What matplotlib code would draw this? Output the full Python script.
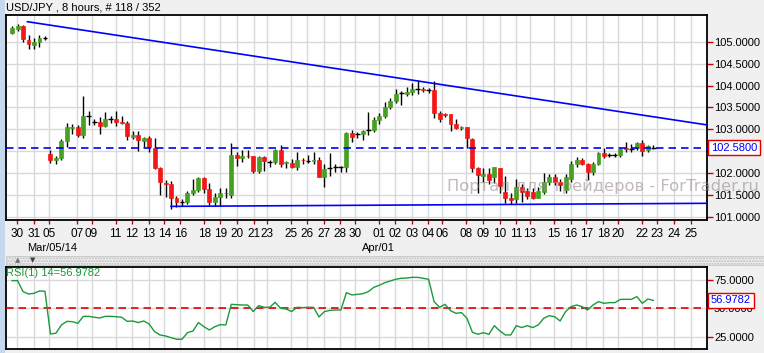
import matplotlib
matplotlib.use('Agg')
import matplotlib.pyplot as plt
import matplotlib.transforms as mtransforms
from matplotlib.patches import Rectangle
import numpy as np

plt.rcParams['font.family'] = ['Liberation Sans', 'DejaVu Sans']

# 8-hour USD/JPY candles
opens = [105.205, 105.289, 105.358, 105.038, 104.924, 105.000, 105.076, 102.435, 102.306, 102.352,
         102.732, 103.040, 103.052, 102.877, 103.311, 103.158, 103.166, 103.075, 103.227, 103.234,
         103.166, 103.143, 102.831, 102.869, 102.740, 102.801, 102.580, 102.108, 101.770, 101.750,
         101.431, 101.332, 101.347, 101.537, 101.613, 101.880, 101.636, 101.347, 101.454, 101.550,
         101.499, 102.412, 102.336, 102.390, 102.382, 102.055, 102.367, 102.260, 102.260, 102.527,
         102.237, 102.237, 102.146, 102.300, 102.283, 102.276, 102.291, 101.918, 102.123, 102.130,
         102.131, 102.131, 102.922, 102.890, 102.900, 102.983, 102.983, 103.212, 103.311, 103.501,
         103.645, 103.820, 103.813, 103.858, 103.919, 103.919, 103.900, 103.896, 103.379, 103.345,
         103.341, 103.120, 103.021, 103.044, 102.778, 102.123, 101.941, 101.971, 101.903, 102.108,
         101.560, 101.423, 101.400, 101.689, 101.591, 101.560, 101.438, 101.575, 101.804, 101.903,
         101.800, 101.620, 101.857, 102.207, 102.298, 102.199, 102.032, 102.207, 102.466, 102.410,
         102.410, 102.412, 102.580, 102.542, 102.565, 102.694, 102.527, 102.580]
highs = [105.358, 105.403, 105.381, 105.152, 105.076, 105.152, 105.129, 102.527, 102.397, 102.778,
         103.151, 103.128, 103.105, 103.767, 103.417, 103.234, 103.280, 103.394, 103.303, 103.409,
         103.311, 103.189, 102.968, 102.960, 102.831, 102.854, 102.808, 102.131, 101.842, 101.826,
         101.476, 101.408, 101.591, 101.857, 101.910, 101.918, 101.766, 101.537, 101.651, 101.667,
         102.679, 102.473, 102.527, 102.527, 102.397, 102.382, 102.390, 102.291, 102.549, 102.641,
         102.276, 102.314, 102.489, 102.352, 102.412, 102.489, 102.375, 102.199, 102.451, 102.199,
         102.169, 102.945, 102.983, 102.930, 102.983, 103.402, 103.288, 103.379, 103.615, 103.706,
         103.919, 103.874, 103.973, 104.049, 104.125, 103.973, 103.950, 104.110, 103.417, 103.379,
         103.356, 103.234, 103.075, 103.060, 102.793, 102.139, 102.123, 102.123, 102.139, 102.123,
         101.941, 101.537, 101.857, 101.743, 101.667, 101.651, 101.689, 102.002, 101.971, 101.986,
         101.870, 101.980, 102.283, 102.375, 102.336, 102.222, 102.260, 102.489, 102.565, 102.466,
         102.450, 102.580, 102.717, 102.656, 102.702, 102.755, 102.641, 102.641]
lows = [105.167, 105.251, 105.000, 104.833, 104.840, 104.886, 105.038, 102.237, 102.199, 102.291,
        102.603, 102.892, 102.823, 102.808, 103.097, 103.097, 102.892, 103.052, 103.135, 103.075,
        103.120, 102.755, 102.785, 102.511, 102.603, 102.473, 102.093, 101.499, 101.461, 101.180,
        101.233, 101.248, 101.301, 101.499, 101.575, 101.537, 101.271, 101.256, 101.256, 101.438,
        101.438, 102.169, 102.260, 102.336, 102.009, 101.994, 102.055, 102.131, 102.215, 102.131,
        102.108, 102.108, 102.070, 102.207, 102.222, 102.207, 101.903, 101.689, 101.941, 102.032,
        102.032, 102.032, 102.717, 102.808, 102.755, 102.869, 102.945, 103.113, 103.265, 103.455,
        103.592, 103.554, 103.767, 103.782, 103.798, 103.843, 103.820, 103.265, 103.174, 103.288,
        102.960, 102.998, 102.983, 102.580, 102.032, 101.537, 101.804, 101.750, 101.781, 101.537,
        101.309, 101.286, 101.309, 101.347, 101.400, 101.400, 101.423, 101.515, 101.727, 101.727,
        101.580, 101.550, 101.804, 102.146, 102.184, 101.842, 101.956, 102.184, 102.336, 102.375,
        102.375, 102.375, 102.489, 102.489, 102.527, 102.397, 102.489, 102.550]
closes = [105.304, 105.358, 105.053, 104.939, 105.000, 105.084, 105.076, 102.298, 102.352, 102.732,
          103.052, 103.048, 102.877, 103.311, 103.311, 103.158, 103.082, 103.234, 103.227, 103.166,
          103.150, 102.839, 102.877, 102.747, 102.808, 102.588, 102.108, 101.788, 101.760, 101.438,
          101.347, 101.332, 101.537, 101.613, 101.895, 101.636, 101.347, 101.461, 101.545, 101.535,
          102.412, 102.336, 102.390, 102.385, 102.055, 102.367, 102.283, 102.260, 102.527, 102.215,
          102.245, 102.146, 102.298, 102.290, 102.283, 102.298, 101.918, 102.093, 102.123, 102.130,
          102.131, 102.907, 102.816, 102.890, 102.960, 102.983, 103.212, 103.311, 103.501, 103.645,
          103.805, 103.820, 103.858, 103.919, 103.919, 103.905, 103.900, 103.379, 103.234, 103.335,
          103.120, 103.037, 103.052, 102.808, 102.123, 101.956, 101.979, 101.842, 102.131, 101.712,
          101.423, 101.393, 101.689, 101.575, 101.484, 101.423, 101.591, 101.804, 101.910, 101.804,
          101.720, 101.900, 102.207, 102.298, 102.207, 102.032, 102.207, 102.466, 102.390, 102.410,
          102.410, 102.542, 102.542, 102.542, 102.679, 102.504, 102.618, 102.580]

rsi = [74.4, 74.4, 64.7, 62.6, 63.2, 65.3, 65.0,
       27.4, 28.0, 35.3, 38.5, 38.2, 36.8, 42.9,
       42.9, 42.1, 41.5, 42.9, 42.9, 42.6, 42.1,
       38.5, 38.8, 37.4, 38.8, 36.2, 29.4, 26.5,
       25.6, 24.1, 22.7, 22.7, 28.5, 30.0, 37.4,
       33.8, 30.9, 33.8, 35.6, 35.3, 53.5, 53.2,
       52.9, 52.9, 47.1, 52.4, 50.9, 50.9, 55.3,
       50.0, 49.4, 47.1, 50.9, 50.6, 50.9, 50.9,
       42.4, 47.1, 48.2, 48.5, 48.5, 63.8, 61.8,
       62.3, 62.9, 64.7, 68.5, 70.3, 72.6, 74.1,
       75.6, 76.5, 76.7, 77.3, 77.3, 76.5, 75.6,
       55.9, 50.9, 53.5, 47.9, 45.6, 46.2, 41.2,
       28.8, 27.1, 28.5, 27.1, 34.7, 30.0, 26.5,
       26.5, 34.7, 33.0, 34.7, 33.0, 35.3, 41.2,
       43.5, 42.6, 38.8, 47.1, 51.5, 52.9, 51.5,
       48.5, 52.9, 55.9, 54.4, 55.0, 55.0, 57.9,
       57.9, 57.9, 60.3, 54.4, 58.2, 56.9782]

day_pos = [0.9, 4.0, 6.8, 11.9, 14.5, 18.9, 21.8, 24.9, 27.8, 30.7, 35.1, 38.0, 41.1, 44.1, 46.5,
           50.9, 53.9, 56.9, 59.9, 62.5, 67.0, 69.9, 72.9, 75.9, 78.5, 82.9, 86.0, 89.0, 91.9,
           94.5, 98.9, 101.9, 104.8, 107.9, 110.5, 115.0, 117.7, 120.8, 123.8]
day_labels = ['30', '31', '05', '07', '09', '11', '12', '13', '14', '16', '18', '19', '20', '21', '23',
              '25', '26', '27', '28', '30', '01', '02', '03', '04', '06', '08', '09', '10', '11',
              '13', '15', '16', '17', '18', '20', '22', '23', '24', '25']
month_pos = [7.3, 66.8]
month_labels = ['Mar/05/14', 'Apr/01']

upper_x = [2.8, 126.8]
upper_y = [105.457, 103.10]
lower_x = [29.0, 126.8]
lower_y = [101.24, 101.31]
last_price = 102.58
rsi_last = 56.9782
price_ticks = [101.0, 101.5, 102.0, 102.5, 103.0, 103.5, 104.0, 104.5, 105.0]
rsi_ticks = [25, 50, 75]

up_col = '#46a021'
dn_col = '#f21818'
bg = '#f0f0f0'
fs = 8

fig = plt.figure(figsize=(7.64, 3.53), dpi=100, facecolor=bg)
ax = fig.add_axes([0.0085, 0.3768, 0.9169, 0.5807])
ax2 = fig.add_axes([0.0085, 0.0113, 0.9169, 0.2332], sharex=ax)

x = np.arange(len(opens))
o = np.array(opens)
h = np.array(highs)
l = np.array(lows)
c = np.array(closes)

# wicks
ax.vlines(x, l, h, color='black', linewidth=1, zorder=3)
# bodies
flat = np.abs(c - o) < 0.004
up = (c > o) & ~flat
dn = (c < o) & ~flat
ax.bar(x[up], (c - o)[up], bottom=o[up], width=0.72, color=up_col, edgecolor=up_col,
       linewidth=0.5, zorder=4)
ax.bar(x[dn], (o - c)[dn], bottom=c[dn], width=0.72, color=dn_col, edgecolor=dn_col,
       linewidth=0.5, zorder=4)
ax.hlines(o[flat], x[flat] - 0.45, x[flat] + 0.45, color='black', linewidth=1, zorder=4)

ax.plot(upper_x, upper_y, color='#0000ff', linewidth=1.2, zorder=5)
ax.plot(lower_x, lower_y, color='#0000ff', linewidth=1.2, zorder=5)
ax.axhline(last_price, color='#0000ee', linewidth=1.2, dashes=(4.5, 3), zorder=5)

ax.set_xlim(-1.02, 126.8)
ax.set_ylim(100.929, 105.61)
ax.set_facecolor('white')
ax.set_axisbelow(True)
ax.yaxis.tick_right()
ax.set_yticks(price_ticks)
ax.set_yticklabels(['%.4f' % v for v in price_ticks])
ax.set_xticks(day_pos)
ax.set_xticklabels(day_labels)
ax.tick_params(axis='y', colors='#d00000', labelcolor='black', length=4, width=1,
               labelsize=fs, pad=1)
ax.tick_params(axis='x', colors='#d00000', labelcolor='black', length=3, width=1,
               labelsize=fs + 0.5, pad=3)
ax.grid(color='#d9d9d9', linewidth=1)
for s in ax.spines.values():
    s.set_linewidth(1.3)

tr = mtransforms.blended_transform_factory(ax.transData, ax.transAxes)
for p, lab in zip(month_pos, month_labels):
    ax.text(p, -0.135, lab, transform=tr, ha='center', va='center', fontsize=fs, clip_on=False)

trv = mtransforms.blended_transform_factory(ax.transAxes, ax.transData)
ax.text(1.0055, last_price, '%.4f' % last_price, transform=trv, ha='left', va='center',
        fontsize=fs, color='#0000ff', zorder=10, clip_on=False,
        bbox=dict(boxstyle='square,pad=0.25', facecolor='white', edgecolor='#e00000', linewidth=1))

# RSI panel
ax2.plot(x, rsi, color='#1a9a3a', linewidth=1, zorder=4)
ax2.axhline(50, color='#e00000', linewidth=1.2, dashes=(4.5, 3), zorder=3)
ax2.set_ylim(14.1, 86.7)
ax2.set_facecolor('white')
ax2.set_axisbelow(True)
ax2.yaxis.tick_right()
ax2.set_yticks(rsi_ticks)
ax2.set_yticklabels(['%.4f' % v for v in rsi_ticks])
ax2.tick_params(axis='y', colors='#d00000', labelcolor='black', length=4, width=1,
                labelsize=fs, pad=1)
ax2.tick_params(axis='x', length=0, labelbottom=False)
ax2.grid(color='#d9d9d9', linewidth=1)
for s in ax2.spines.values():
    s.set_linewidth(1.3)
ax2.text(0.0, 0.925, 'RSI(1) 14=%.4f' % rsi_last, transform=ax2.transAxes, ha='left',
         va='center', fontsize=fs, color='#1a9a3a', zorder=10)
trv2 = mtransforms.blended_transform_factory(ax2.transAxes, ax2.transData)
ax2.text(1.0055, rsi_last, '%.4f' % rsi_last, transform=trv2, ha='left', va='center',
         fontsize=fs, color='#0000ff', zorder=10, clip_on=False,
         bbox=dict(boxstyle='square,pad=0.25', facecolor='white', edgecolor='#e00000', linewidth=1))

# window chrome
fig.patches.append(Rectangle((0, 0), 5 / 764, 1, transform=fig.transFigure,
                             facecolor='#c4d8ee', edgecolor='none'))
fig.patches.append(Rectangle((6 / 764, 88 / 353), 758 / 764, 9 / 353, transform=fig.transFigure,
                             facecolor='#ececec', edgecolor='#c0c0c0', hatch='......',
                             linewidth=0.5))
fig.text(18 / 764, 1 - 260 / 353, '\u25b2', fontsize=5, color='#707070',
         ha='center', va='center', family='DejaVu Sans')
fig.text(33 / 764, 1 - 260 / 353, '\u25bc', fontsize=5, color='#404040',
         ha='center', va='center', family='DejaVu Sans')
fig.text(6 / 764, 1 - 7.5 / 353, 'USD/JPY , 8 hours, # 118 / 352', fontsize=fs,
         ha='left', va='center')

# watermark
fig.text(447 / 764, 1 - 187 / 353, 'Портал для трейдеров - ForTrader.ru', fontsize=11.8,
         color='#9a8c8c', alpha=0.6, ha='left', va='center', family='DejaVu Sans', zorder=20)

fig.savefig('out.png', dpi=100, facecolor=bg)
